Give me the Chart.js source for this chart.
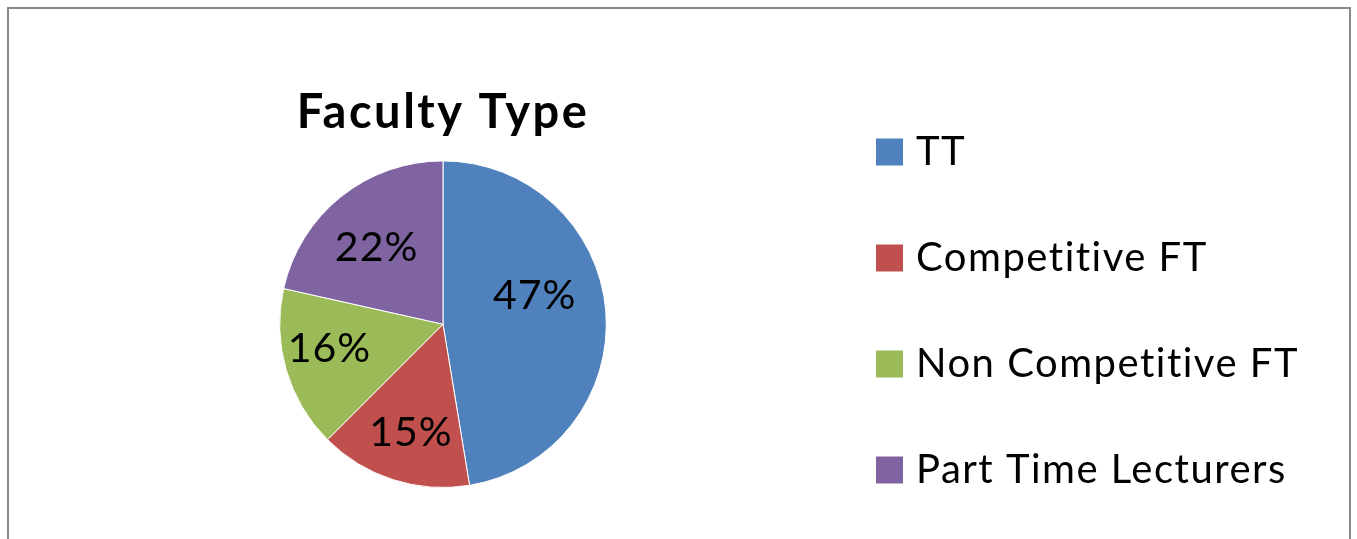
<!DOCTYPE html>
<html>
<head>
<meta charset="utf-8">
<script src="https://cdn.jsdelivr.net/npm/chart.js@4.4.1/dist/chart.umd.min.js"></script>
<style>
  html, body { margin: 0; padding: 0; background: #fff; overflow: hidden; }
  #frame { position: absolute; left: 7px; top: 7px; width: 1340px; height: 600px; border: 2px solid #8a8a8a; box-sizing: content-box; }
  #wrap { position: absolute; left: 0; top: 0; width: 1357px; height: 539px; }
</style>
</head>
<body>
<div id="frame"></div>
<div id="wrap"><canvas id="myChart"></canvas></div>
<script>
// chart data
const categories = ['TT', 'Competitive FT', 'Non Competitive FT', 'Part Time Lecturers'];
const shares = [47.4, 15.1, 16.0, 21.5];
const percentLabels = ['47%', '15%', '16%', '22%'];
const sliceColors = ['#4F81BD', '#C0504D', '#9BBB59', '#8064A2'];

// small nudges so the labels sit where excel put them
const labelNudge = [[-19, -19], [2, 3], [-7, -6], [3, 10]];

// lato is a bit narrow next to calibri, spread the title letters a little
const titleSpacing = {
  id: 'titleSpacing',
  beforeDraw(chart) { chart.ctx.letterSpacing = '2.5px'; },
  beforeDatasetsDraw(chart) { chart.ctx.letterSpacing = '0px'; }
};

const pieLabels = {
  id: 'pieLabels',
  afterDatasetsDraw(chart) {
    const ctx = chart.ctx;
    const meta = chart.getDatasetMeta(0);
    ctx.save();
    ctx.font = '41px Lato';
    ctx.letterSpacing = '1px';
    ctx.fillStyle = '#000';
    ctx.textAlign = 'center';
    ctx.textBaseline = 'middle';
    meta.data.forEach((arc, i) => {
      const p = arc.getProps(['x', 'y', 'startAngle', 'endAngle', 'outerRadius'], true);
      const mid = (p.startAngle + p.endAngle) / 2;
      const r = p.outerRadius * 0.68;
      ctx.fillText(percentLabels[i], p.x + Math.cos(mid) * r + labelNudge[i][0], p.y + Math.sin(mid) * r + labelNudge[i][1]);
    });
    ctx.restore();
  }
};

const sideLegend = {
  id: 'sideLegend',
  afterDraw(chart) {
    const ctx = chart.ctx;
    const left = 876, top = 152, gap = 106, box = 27;
    ctx.save();
    ctx.font = '40px Lato';
    ctx.letterSpacing = '1.5px';
    ctx.textBaseline = 'middle';
    ctx.textAlign = 'left';
    chart.data.labels.forEach((lbl, i) => {
      const y = top + i * gap;
      ctx.fillStyle = chart.data.datasets[0].backgroundColor[i];
      ctx.fillRect(left, y - box / 2, box, box);
      ctx.fillStyle = '#000';
      ctx.fillText(lbl, left + 40, y);
    });
    ctx.restore();
  }
};

var ctx = document.getElementById('myChart');

var myChart = new Chart(ctx, {
  type: 'pie',
  data: {
    labels: categories,
    datasets: [{
      data: shares,
      backgroundColor: sliceColors,
      borderColor: '#ffffff',
      borderWidth: 1
    }]
  },
  options: {
    responsive: true,
    maintainAspectRatio: false,
    animation: false,
    layout: { padding: { left: 279, right: 750, top: 0, bottom: 51 } },
    plugins: {
      legend: { display: false },
      tooltip: { enabled: false },
      title: {
        display: true,
        text: 'Faculty Type',
        fullSize: false,
        color: '#000',
        font: { family: 'Lato', size: 47, weight: 'bold', lineHeight: 1.2 },
        padding: { top: 85, bottom: 19 }
      }
    }
  },
  plugins: [titleSpacing, pieLabels, sideLegend]
});
</script>
</body>
</html>
